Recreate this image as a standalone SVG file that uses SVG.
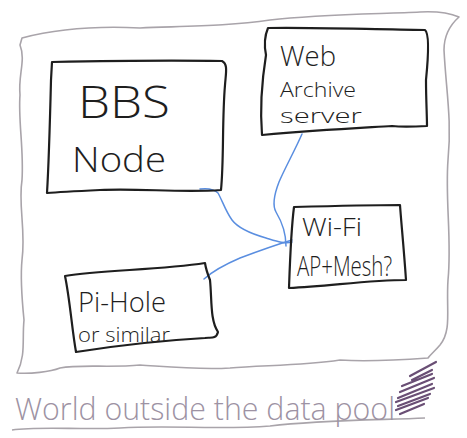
<svg xmlns="http://www.w3.org/2000/svg" width="467" height="438" viewBox="0 0 467 438">
<style>
.box{fill:none;stroke:#1e1e1e;stroke-width:2.2;stroke-linejoin:round;stroke-linecap:round}
.pool{fill:none;stroke:#a9a4aa;stroke-width:1.6;stroke-linejoin:round}
.link{fill:none;stroke:#5a8ee0;stroke-width:1.5;stroke-linecap:round}
.lbl{font-family:"Open Sans","Liberation Sans",sans-serif;font-weight:300;fill:#1e1e1e}
.world{font-family:"Open Sans","Liberation Sans",sans-serif;font-weight:300;fill:#9d92a3}
</style>
<rect width="467" height="438" fill="#ffffff"/>
<g id="pool">
<path class="pool" d="M22,38 C60,28 100,26 140,28 C190,26 230,26 270,20 C320,14 380,14 420,12 C440,11 452,14 459,17 C450,25 444,35 444,50 C446,90 452,120 448,160 C445,200 452,240 448,280 C446,310 452,330 440,345 C434,352 430,355 428,358 C400,360 370,362 340,360 C300,366 260,365 230,368 C200,370 170,367 140,365 C110,368 80,364 60,368 C50,372 30,374 17,373 C26,355 22,340 24,320 C22,300 20,280 22,260 C26,230 18,205 22,180 C24,150 18,120 20,95 C18,75 26,60 20,45 Z"/>
<path class="pool" d="M12,430 C40,426 80,430 120,428 C170,425 220,430 270,426 C320,420 380,420 425,418"/>
</g>
<g id="connectors">
<path class="link" d="M200,189 C208,188 214,189 218,193 C222,200 226,212 232,220 C238,228 252,234 266,238 C276,241 284,244 292,242"/>
<path class="link" d="M302,134 C295,150 285,168 279,182 C274,195 272,205 276,212 C282,222 286,232 286,246"/>
<path class="link" d="M204,279 C214,270 226,264 240,258 C256,252 272,246 292,240"/>
</g>
<g id="bbs-node">
<path class="box" d="M52,62 C100,61 170,60 222,61 C228,64 226,72 225,85 C222,120 224,160 221,190 C180,193 140,188 100,190 C80,191 60,192 47,193 C49,160 50,120 51,80 Z"/>
<text class="lbl" x="78" y="118" font-size="44" textLength="92" lengthAdjust="spacingAndGlyphs">BBS</text>
<text class="lbl" x="72" y="172" font-size="34" textLength="94" lengthAdjust="spacingAndGlyphs">Node</text>
</g>
<g id="web-archive">
<path class="box" d="M268,28 C300,27 360,29 425,30 C430,34 428,60 426,80 C426,100 427,115 427,126 C410,127 400,127 392,126 C360,128 320,130 262,135 C260,110 262,80 266,55 C264,45 265,35 268,28 Z"/>
<text class="lbl" x="280" y="66" font-size="28" textLength="56" lengthAdjust="spacingAndGlyphs">Web</text>
<text class="lbl" x="280" y="97" font-size="20" textLength="76" lengthAdjust="spacingAndGlyphs">Archive</text>
<text class="lbl" x="280" y="123" font-size="20" textLength="82" lengthAdjust="spacingAndGlyphs">server</text>
</g>
<g id="wifi">
<path class="box" d="M294,207 C330,206 370,205 400,205 C401,220 404,250 406,280 C370,280 330,286 289,288 C290,260 291,230 294,207 Z"/>
<text class="lbl" x="302" y="236" font-size="26" textLength="60" lengthAdjust="spacingAndGlyphs">Wi-Fi</text>
<text class="lbl" x="297" y="276" font-size="28" textLength="95" lengthAdjust="spacingAndGlyphs">AP+Mesh?</text>
</g>
<g id="pi-hole">
<path class="box" d="M65,276 C100,270 160,270 205,263 C206,270 208,275 210,280 C212,300 210,320 218,332 C216,340 210,337 205,338 C170,340 120,345 76,352 C72,330 70,300 65,276 Z"/>
<text class="lbl" x="78" y="312" font-size="27" textLength="88" lengthAdjust="spacingAndGlyphs">Pi-Hole</text>
<text class="lbl" x="78" y="342" font-size="20" textLength="92" lengthAdjust="spacingAndGlyphs">or similar</text>
</g>
<g id="label">
<text class="world" x="15" y="420" font-size="32" textLength="380" lengthAdjust="spacingAndGlyphs">World outside the data pool</text>
<path fill="none" stroke="#6a4f75" stroke-width="2.2" stroke-linecap="round" d="M410,376 L436,362 M412,380 L432,370 M402,386 L432,374 M400,392 L434,378 M398,398 L432,384 M396,402 L434,388 M398,406 L430,394 M396,410 L428,398 M400,414 L424,404"/>
</g>
</svg>
